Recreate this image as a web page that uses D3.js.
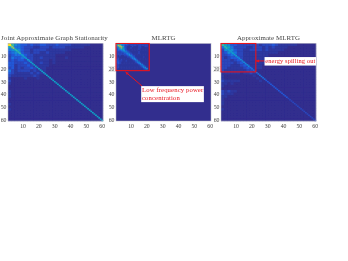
<!DOCTYPE html>
<html><head><meta charset="utf-8">
<script src="https://cdnjs.cloudflare.com/ajax/libs/d3/7.8.5/d3.min.js"></script>
<style>html,body{margin:0;padding:0;background:#fff}svg{display:block}text{font-family:"Liberation Serif","DejaVu Serif",serif}</style>
</head><body><svg id="c" width="348" height="261"></svg>
<script>
const tickValues=[10,20,30,40,50,60];
const titles=["Joint Approximate Graph Stationarity","MLRTG","Approximate MLRTG"];
// digit = colour level 0-9, each digit covers 2x2 matrix cells
const gridJoint=[
"975433232233222322221111110000",
"674432221122212222111111000000",
"456532212222111111110000000000",
"345532212211211111000000000000",
"234443221111111000000000000000",
"243343221121111000100000000000",
"232332321111101000000000000000",
"332223221121101000000000000000",
"331222321111100000000000000000",
"231212232111000000000000000000",
"421222212111000000000000000000",
"321111121211000000000000000000",
"211111112100000000000000000000",
"100001000100000000000000000000",
"200000000000000000000000000000",
"100000000000000000000000000000",
"000000000000000000000000000000",
"000000000000000000000000000000",
"100000000000000000000000000000",
"100000000000000000000000000000",
"100000000000000000000000000000",
"000000000000000000000000000000",
"000000000000000000000000000000",
"100000000000000000000000000000",
"000000000000000000000000000000",
"100000000000000000000000000000",
"000000000000000000000000000000",
"000000000000000000000000000000",
"000000000000000000000000000000",
"000000000000000000000000000000"];
// first panel diagonal, one level per 2 cells
const diagJoint=[9,8,7,7,6,6,6,6,6,6,6,6,6,6,6,6,6,6,6,6,6,6,6,6,6,6,6,6,6,6];
// digit = level per single matrix cell, top-left 20x20 of MLRTG
const gridMlrtg=[
"76655443222222222222",
"68864322122221222222",
"47887321112111221122",
"35786421121111221111",
"24566421111111211111",
"23345532111111111111",
"22234553211111211111",
"22222345321111211111",
"22222234532111111111",
"21211223553211111111",
"21111112245311111211",
"22111111124531111111",
"32121111112452111111",
"33221121111245211111",
"33211111111124521111",
"23211111111112452111",
"22111111111111245211",
"22111111111111124521",
"22111111111111112452",
"21111111111111111245"];
const gridApprox=[
"765332222222122232111111000000",
"466422221122212121111000000000",
"255532211222212111110000000000",
"235442211111111111000000000000",
"223432211111111000000000000000",
"212333211111111000000000000000",
"222123211111110000000000000000",
"222212321111110000000000000000",
"222111232111100000000000000000",
"221111123211100000000000000000",
"211111112210000000000000000000",
"111111011210000000000000000000",
"100000000010000000000000000000",
"100000000001000000000000000000",
"211111000000100000000000000000",
"110100000000000000000000000000",
"100000000000000000000000000000",
"000000000000000000000000000000",
"212110000000000000000000000000",
"211100000000000000000000000000",
"110000000000000000000000000000",
"100000000000000000000000000000",
"100000000000000000000000000000",
"100000000000000000000000000000",
"000000000000000000000000000000",
"100000000000000000000000000000",
"000000000000000000000000000000",
"000000000000000000000000000000",
"000000000000000000000000000000",
"000000000000000000000000000000"];
// third panel diagonal, one level per 2 cells
const diagApprox=[7,7,6,6,6,5,5,5,5,4,4,4,4,4,3,3,3,3,3,3,3,2,2,2,2,2,2,2,2,2];
const noteMlrtg=["Low frequency power","concentration"];
const noteApprox=["energy spilling out"];

const parula=["#312e8e","#2d389f","#2a46bc","#2358d8","#1a72e0","#148cd8","#10a4c8","#35b8a2","#a6bd66","#f7e41c"];
const color=d3.scaleQuantize().domain([0,10]).range(parula);
const svg=d3.select("#c");
const defs=svg.append("defs");
defs.append("filter").attr("id","soft").attr("x","-5%").attr("y","-5%").attr("width","110%").attr("height","110%")
  .append("feGaussianBlur").attr("stdDeviation",0.35);
defs.append("filter").attr("id","softT").append("feGaussianBlur").attr("stdDeviation",0.18);
const red="#e8141e";
const panels=[{l:8,r:103},{l:116,r:211},{l:221,r:316}];
const yS=d3.scaleLinear().domain([0.5,60.5]).range([43.5,121]);
const bg=parula[0];

function panel(i){
  const p=panels[i];
  const xS=d3.scaleLinear().domain([0.5,60.5]).range([p.l,p.r]);
  const g=svg.append("g");
  const hm=g.append("g").attr("filter","url(#soft)");
  hm.append("rect").attr("x",xS(0.5)).attr("y",yS(0.5)).attr("width",xS(60.5)-xS(0.5)).attr("height",yS(60.5)-yS(0.5)).attr("fill",bg);
  const cells=[];
  if(i===0||i===2){
    const grid=i===0?gridJoint:gridApprox;
    grid.forEach((row,r)=>[...row].forEach((d,c)=>cells.push({c:c*2+1,r:r*2+1,s:2,v:+d})));
  } else {
    gridMlrtg.forEach((row,r)=>[...row].forEach((d,c)=>cells.push({c:c+1,r:r+1,s:1,v:+d})));
  }
  const diag=i===0?diagJoint:i===2?diagApprox:[];
  diag.forEach((v,k)=>{cells.push({c:k*2+1,r:k*2+1,s:1,v});cells.push({c:k*2+2,r:k*2+2,s:1,v});});
  hm.selectAll("rect.c").data(cells).join("rect").attr("class","c")
    .attr("x",d=>xS(d.c-0.5)).attr("y",d=>yS(d.r-0.5))
    .attr("width",d=>xS(d.c-0.5+d.s)-xS(d.c-0.5)+0.2).attr("height",d=>yS(d.r-0.5+d.s)-yS(d.r-0.5)+0.2)
    .attr("fill",d=>color(d.v));
  g.append("rect").attr("x",xS(0.5)).attr("y",yS(0.5)).attr("width",xS(60.5)-xS(0.5)).attr("height",yS(60.5)-yS(0.5))
    .attr("fill","none").attr("stroke","#b9b9c4").attr("stroke-width",0.5);
  const tg=g.append("g").attr("filter","url(#softT)").attr("fill","#444").attr("font-size",5.8);
  tg.selectAll("text.x").data(tickValues).join("text").attr("class","x")
    .attr("x",d=>xS(d)).attr("y",127.5).attr("text-anchor","middle").text(d=>d);
  tg.selectAll("text.y").data(tickValues).join("text").attr("class","y")
    .attr("x",p.l-1.5).attr("y",d=>yS(d)+1.9).attr("text-anchor","end").text(d=>d);
  const cx=i===0?54.5:(p.l+p.r)/2;
  tg.append("text").attr("x",cx).attr("y",39.5).attr("text-anchor","middle").attr("font-size",6.9)
    .attr("letter-spacing",0.08).text(titles[i]);
  if(i>0){
    g.selectAll("line.ghost").data([18.5,22]).join("line").attr("class","ghost")
      .attr("x1",p.l-8).attr("x2",p.l).attr("y1",d=>yS(d)).attr("y2",d=>yS(d))
      .attr("stroke","#c4c4c4").attr("stroke-width",0.5);
  }
  return {xS,g};
}
function note(pn,box,lines,fs){
  const {xS,g}=pn;
  g.append("rect").attr("x",box.x).attr("y",box.y).attr("width",box.w).attr("height",box.h).attr("fill","#fff");
  g.append("g").attr("filter","url(#softT)").selectAll("text").data(lines).join("text")
    .attr("x",box.x+0.8).attr("y",(d,k)=>box.y+6.2+k*8).attr("font-size",fs).attr("fill",red).attr("letter-spacing",0.12).text(d=>d);
}
function redBox(pn,n){
  pn.g.append("rect").attr("x",pn.xS(0.5)).attr("y",yS(0.5)).attr("width",pn.xS(n)-pn.xS(0.5)).attr("height",yS(n)-yS(0.5))
    .attr("fill","none").attr("stroke",red).attr("stroke-width",1.1);
}
function arrow(pn,a,b){
  const [x1,y1]=a,[x2,y2]=b,ang=Math.atan2(y2-y1,x2-x1),h=3.5;
  pn.g.append("line").attr("x1",x1).attr("y1",y1).attr("x2",x2).attr("y2",y2).attr("stroke",red).attr("stroke-width",1);
  pn.g.append("path").attr("fill",red).attr("d",d3.line()([[x2,y2],[x2-h*Math.cos(ang-0.45),y2-h*Math.sin(ang-0.45)],[x2-h*Math.cos(ang+0.45),y2-h*Math.sin(ang+0.45)]])+"Z");
}
const p0=panel(0),p1=panel(1),p2=panel(2);
redBox(p1,21.5);
arrow(p1,[p1.xS(17),yS(33.5)],[p1.xS(6.5),yS(22.5)]);
note(p1,{x:p1.xS(16.4),y:yS(33.5),w:p1.xS(56)-p1.xS(16.4),h:16},noteMlrtg,6.7);
redBox(p2,22.5);
arrow(p2,[p2.xS(28),yS(14)],[p2.xS(22.5),yS(14)]);
note(p2,{x:p2.xS(28),y:yS(11),w:p2.xS(60.5)-p2.xS(28),h:8.5},noteApprox,6.4);
</script></body></html>
